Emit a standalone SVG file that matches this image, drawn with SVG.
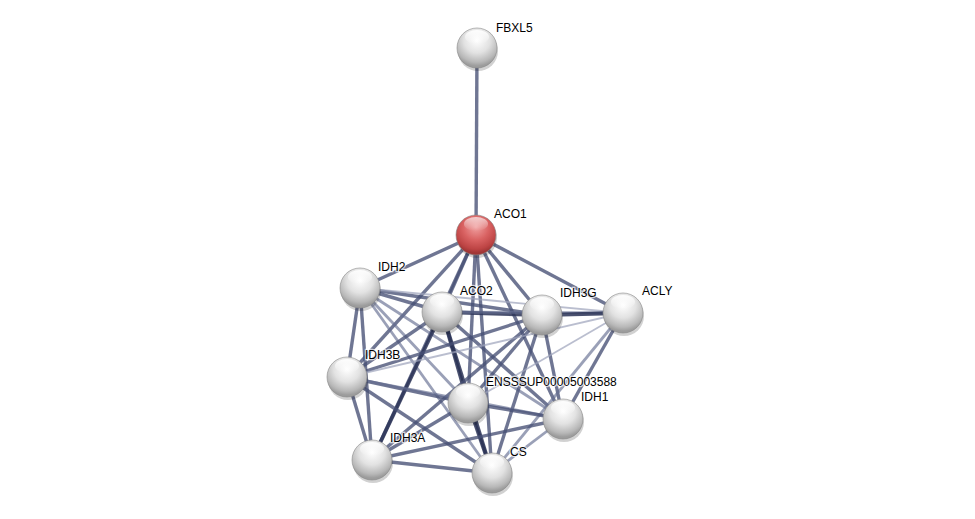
<svg xmlns="http://www.w3.org/2000/svg" width="975" height="519" viewBox="0 0 975 519">
<defs>
<radialGradient id="gw" cx="50%" cy="30%" r="65%">
<stop offset="0" stop-color="#ffffff"/>
<stop offset="0.5" stop-color="#e2e2e2"/>
<stop offset="0.85" stop-color="#b8b8b8"/>
<stop offset="1" stop-color="#9c9c9c"/>
</radialGradient>
<radialGradient id="gr" cx="50%" cy="30%" r="65%">
<stop offset="0" stop-color="#f0a0a0"/>
<stop offset="0.5" stop-color="#d96262"/>
<stop offset="0.85" stop-color="#bd4444"/>
<stop offset="1" stop-color="#a03636"/>
</radialGradient>
<linearGradient id="hl" x1="0" y1="0" x2="0" y2="1">
<stop offset="0" stop-color="#fff" stop-opacity="0.95"/>
<stop offset="1" stop-color="#fff" stop-opacity="0"/>
</linearGradient>
</defs>
<style>
.e{fill:none;stroke-linecap:butt}
.d{stroke:#2a3356;stroke-width:3.8;opacity:0.85}
.m{stroke:#465075;stroke-width:3.4;opacity:0.78}
.l{stroke:#646d90;stroke-width:2.8;opacity:0.65}
.t{stroke:#9ca2ba;stroke-width:1.8;opacity:0.7}
.ball{stroke:#8a8a8a;stroke-width:0.6}
.sh{fill:#000;opacity:0.18}
text{font-family:"Liberation Sans",Arial,sans-serif;font-size:12px;fill:#000;paint-order:stroke;stroke:#fff;stroke-width:2.5px;stroke-opacity:0.7}
</style>
<rect width="975" height="519" fill="#fff"/>
<g id="edges">
<line class="e m" x1="477" y1="48" x2="476" y2="235"/>
<line class="e m" x1="476" y1="235" x2="360" y2="288"/>
<line class="e m" x1="476" y1="235" x2="442" y2="312"/>
<line class="e m" x1="476" y1="235" x2="542" y2="315"/>
<line class="e m" x1="476" y1="235" x2="623" y2="313"/>
<line class="e m" x1="476" y1="235" x2="347" y2="377"/>
<line class="e m" x1="476" y1="235" x2="468" y2="403"/>
<line class="e m" x1="476" y1="235" x2="563" y2="419"/>
<line class="e m" x1="476" y1="235" x2="372" y2="460"/>
<line class="e m" x1="476" y1="235" x2="492" y2="473"/>
<line class="e m" x1="360" y1="288" x2="442" y2="312"/>
<line class="e m" x1="360" y1="288" x2="542" y2="315"/>
<line class="e t" x1="360" y1="288" x2="623" y2="313"/>
<line class="e m" x1="360" y1="288" x2="347" y2="377"/>
<line class="e l" x1="360" y1="288" x2="468" y2="403"/>
<line class="e l" x1="360" y1="288" x2="563" y2="419"/>
<line class="e m" x1="360" y1="288" x2="372" y2="460"/>
<line class="e l" x1="360" y1="288" x2="492" y2="473"/>
<line class="e d" x1="442" y1="312" x2="542" y2="315"/>
<line class="e l" x1="442" y1="312" x2="623" y2="313"/>
<line class="e m" x1="442" y1="312" x2="347" y2="377"/>
<line class="e d" x1="442" y1="312" x2="468" y2="403"/>
<line class="e m" x1="442" y1="312" x2="563" y2="419"/>
<line class="e d" x1="442" y1="312" x2="372" y2="460"/>
<line class="e d" x1="442" y1="312" x2="492" y2="473"/>
<line class="e d" x1="542" y1="315" x2="623" y2="313"/>
<line class="e m" x1="542" y1="315" x2="347" y2="377"/>
<line class="e m" x1="542" y1="315" x2="468" y2="403"/>
<line class="e m" x1="542" y1="315" x2="563" y2="419"/>
<line class="e m" x1="542" y1="315" x2="372" y2="460"/>
<line class="e m" x1="542" y1="315" x2="492" y2="473"/>
<line class="e t" x1="623" y1="313" x2="347" y2="377"/>
<line class="e t" x1="623" y1="313" x2="468" y2="403"/>
<line class="e m" x1="623" y1="313" x2="563" y2="419"/>
<line class="e l" x1="623" y1="313" x2="492" y2="473"/>
<line class="e m" x1="347" y1="377" x2="468" y2="403"/>
<line class="e l" x1="347" y1="377" x2="563" y2="419"/>
<line class="e m" x1="347" y1="377" x2="372" y2="460"/>
<line class="e m" x1="347" y1="377" x2="492" y2="473"/>
<line class="e m" x1="468" y1="403" x2="563" y2="419"/>
<line class="e m" x1="468" y1="403" x2="372" y2="460"/>
<line class="e d" x1="468" y1="403" x2="492" y2="473"/>
<line class="e m" x1="563" y1="419" x2="372" y2="460"/>
<line class="e l" x1="563" y1="419" x2="492" y2="473"/>
<line class="e m" x1="372" y1="460" x2="492" y2="473"/>
</g>
<g id="FBXL5"><ellipse class="sh" cx="478" cy="51" rx="20" ry="20"/><circle class="ball" cx="477" cy="48" r="20" fill="url(#gw)"/><ellipse cx="477" cy="37" rx="12" ry="7" fill="url(#hl)"/><text x="496" y="32">FBXL5</text></g>
<g id="ACO1"><ellipse class="sh" cx="477" cy="238" rx="20" ry="20"/><circle class="ball" cx="476" cy="235" r="20" fill="url(#gr)"/><ellipse cx="476" cy="224" rx="12" ry="7" fill="url(#hl)" opacity="0.7"/><text x="494" y="218">ACO1</text></g>
<g id="IDH2"><ellipse class="sh" cx="361" cy="291" rx="20" ry="20"/><circle class="ball" cx="360" cy="288" r="20" fill="url(#gw)"/><ellipse cx="360" cy="277" rx="12" ry="7" fill="url(#hl)"/><text x="378" y="271">IDH2</text></g>
<g id="ACO2"><ellipse class="sh" cx="443" cy="315" rx="20" ry="20"/><circle class="ball" cx="442" cy="312" r="20" fill="url(#gw)"/><ellipse cx="442" cy="301" rx="12" ry="7" fill="url(#hl)"/><text x="460" y="295">ACO2</text></g>
<g id="IDH3G"><ellipse class="sh" cx="543" cy="318" rx="20" ry="20"/><circle class="ball" cx="542" cy="315" r="20" fill="url(#gw)"/><ellipse cx="542" cy="304" rx="12" ry="7" fill="url(#hl)"/><text x="560" y="297">IDH3G</text></g>
<g id="ACLY"><ellipse class="sh" cx="624" cy="316" rx="20" ry="20"/><circle class="ball" cx="623" cy="313" r="20" fill="url(#gw)"/><ellipse cx="623" cy="302" rx="12" ry="7" fill="url(#hl)"/><text x="642" y="295">ACLY</text></g>
<g id="IDH3B"><ellipse class="sh" cx="348" cy="380" rx="20" ry="20"/><circle class="ball" cx="347" cy="377" r="20" fill="url(#gw)"/><ellipse cx="347" cy="366" rx="12" ry="7" fill="url(#hl)"/><text x="365" y="359">IDH3B</text></g>
<g id="ENSSSUP00005003588"><ellipse class="sh" cx="469" cy="406" rx="20" ry="20"/><circle class="ball" cx="468" cy="403" r="20" fill="url(#gw)"/><ellipse cx="468" cy="392" rx="12" ry="7" fill="url(#hl)"/><text x="486" y="386">ENSSSUP00005003588</text></g>
<g id="IDH1"><ellipse class="sh" cx="564" cy="422" rx="20" ry="20"/><circle class="ball" cx="563" cy="419" r="20" fill="url(#gw)"/><ellipse cx="563" cy="408" rx="12" ry="7" fill="url(#hl)"/><text x="581" y="401">IDH1</text></g>
<g id="IDH3A"><ellipse class="sh" cx="373" cy="463" rx="20" ry="20"/><circle class="ball" cx="372" cy="460" r="20" fill="url(#gw)"/><ellipse cx="372" cy="449" rx="12" ry="7" fill="url(#hl)"/><text x="390" y="442">IDH3A</text></g>
<g id="CS"><ellipse class="sh" cx="493" cy="476" rx="20" ry="20"/><circle class="ball" cx="492" cy="473" r="20" fill="url(#gw)"/><ellipse cx="492" cy="462" rx="12" ry="7" fill="url(#hl)"/><text x="510" y="456">CS</text></g>
</svg>
